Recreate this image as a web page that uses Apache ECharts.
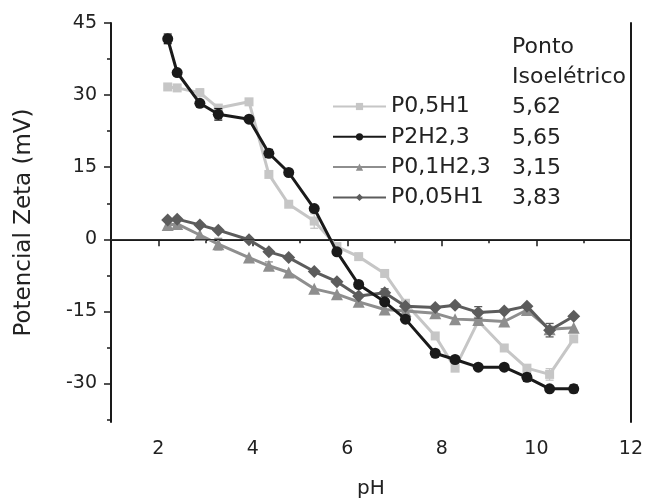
<!DOCTYPE html>
<html>
<head>
<meta charset="utf-8">
<script src="https://cdn.jsdelivr.net/npm/echarts@6/dist/echarts.min.js"></script>
<style>html,body{margin:0;padding:0;background:#fff;}#c{width:646px;height:504px;}</style>
</head>
<body>
<div id="c"></div>
<script>
// ---- data ----
const pH = [2.20, 2.40, 2.88, 3.27, 3.92, 4.34, 4.76, 5.30, 5.78, 6.24, 6.79, 7.23, 7.86, 8.28, 8.77, 9.32, 9.80, 10.28, 10.79];
const P05H1  = [31.7, 31.5, 30.5, 27.3, 28.6, 13.5, 7.3, 3.8, -1.5, -3.6, -7.1, -13.3, -20.1, -26.8, -17.0, -22.6, -26.8, -28.1, -20.7];
const P2H23  = [41.7, 34.7, 28.3, 26.0, 25.0, 17.9, 13.9, 6.4, -2.6, -9.4, -13.0, -16.6, -23.7, -25.0, -26.6, -26.6, -28.7, -31.1, -31.1];
const P01H23 = [3.0, 3.2, 0.9, -1.0, -3.8, -5.5, -6.9, -10.3, -11.4, -13.0, -14.6, -14.9, -15.4, -16.6, -16.8, -17.1, -14.7, -18.7, -18.4];
const P005H1 = [4.0, 4.2, 3.0, 1.9, -0.1, -2.6, -3.8, -6.7, -8.8, -11.8, -11.1, -13.9, -14.2, -13.7, -15.2, -14.9, -13.9, -18.9, -16.0];
const errP05H1  = [0, 0, 0.8, 0, 0, 0, 0, 1.5, 0, 0, 0, 0, 0, 0, 0, 0, 0, 1.2, 0];
const errP2H23  = [1.0, 0, 0.5, 1.2, 0, 0.8, 0, 0.5, 0, 0, 0, 0, 0, 0, 0, 0.5, 0.8, 0, 0.8];
const errP01H23 = [1.0, 1.0, 0, 1.2, 0, 0.8, 0, 0, 0, 0, 0, 0, 0, 0, 0, 0, 0, 0.6, 0];
const errP005H1 = [0, 0, 0, 0, 0, 0, 0, 0, 0, 0, 0.8, 0, 0, 0, 1.2, 0, 0, 1.4, 0];
const seriesNames = ['P0,5H1', 'P2H2,3', 'P0,1H2,3', 'P0,05H1'];
const isoPoints = ['5,62', '5,65', '3,15', '3,83'];
const isoHeader = ['Ponto', 'Isoelétrico'];
const xMajor = [2, 4, 6, 8, 10, 12];
const xMinor = [1, 3, 5, 7, 9, 11];
const yMajor = [-30, -15, 0, 15, 30, 45];
const yMinor = [-37.5, -22.5, -7.5, 7.5, 22.5, 37.5];
const xName = 'pH';
const yName = 'Potencial Zeta (mV)';

// ---- styling ----
const FONT = 'DejaVu Sans';
const TXT = '#222';
const AX = '#1a1a1a';
const styles = [
  {color: '#c6c6c6', symbol: 'rect', size: 9, z: 2},
  {color: '#1a1a1a', symbol: 'circle', size: 11, z: 5},
  {color: '#8e8e8e', symbol: 'triangle', size: 12, z: 3},
  {color: '#5c5c5c', symbol: 'diamond', size: 13, z: 4}
];
const values = [P05H1, P2H23, P01H23, P005H1];
const errs = [errP05H1, errP2H23, errP01H23, errP005H1];

const chart = echarts.init(document.getElementById('c'), null, {renderer: 'canvas'});

const series = [];
values.forEach((vals, i) => {
  const s = styles[i];
  const ser = {
    name: seriesNames[i],
    type: 'line',
    data: pH.map((x, k) => [x, vals[k]]),
    symbol: s.symbol,
    symbolSize: s.size,
    lineStyle: {color: s.color, width: 3},
    itemStyle: {color: s.color},
    z: s.z,
    animation: false
  };
  if (i === 0) {
    ser.markLine = {
      silent: true, symbol: 'none', animation: false,
      label: {show: false},
      lineStyle: {color: '#333', width: 1, type: 'solid'},
      data: [{yAxis: 0}]
    };
  }
  series.push(ser);
});
values.forEach((vals, i) => {
  const color = styles[i].color;
  const data = [];
  pH.forEach((x, k) => { if (errs[i][k] > 0) data.push([x, vals[k] - errs[i][k], vals[k] + errs[i][k]]); });
  series.push({
    type: 'custom',
    z: styles[i].z,
    animation: false,
    silent: true,
    encode: {x: 0, y: [1, 2]},
    data: data,
    renderItem: function (params, api) {
      const x = api.value(0);
      const p1 = api.coord([x, api.value(1)]);
      const p2 = api.coord([x, api.value(2)]);
      const w = 4;
      const st = {stroke: color, lineWidth: 1.3};
      return {type: 'group', children: [
        {type: 'line', shape: {x1: p1[0], y1: p1[1], x2: p2[0], y2: p2[1]}, style: st},
        {type: 'line', shape: {x1: p1[0] - w, y1: p1[1], x2: p1[0] + w, y2: p1[1]}, style: st},
        {type: 'line', shape: {x1: p2[0] - w, y1: p2[1], x2: p2[0] + w, y2: p2[1]}, style: st}
      ]};
    }
  });
});

const graphics = [];
isoHeader.forEach((t, i) => {
  graphics.push({type: 'text', left: 512, top: 36 + i * 30.5, style: {text: t, font: '22px ' + FONT, fill: TXT}});
});
isoPoints.forEach((t, i) => {
  graphics.push({type: 'text', left: 512, top: 96.5 + i * 30.3, style: {text: t, font: '22px ' + FONT, fill: TXT}});
});

const option = {
  backgroundColor: '#fff',
  animation: false,
  textStyle: {fontFamily: FONT},
  grid: {left: 111, right: 14, top: 23, bottom: 82, containLabel: false},
  legend: {
    data: seriesNames,
    orient: 'vertical',
    left: 332, top: 94.5,
    padding: 0,
    itemWidth: 53, itemHeight: 9,
    itemGap: 6.3,
    textStyle: {fontFamily: FONT, fontSize: 22, color: TXT, lineHeight: 24},
    selectedMode: false
  },
  xAxis: [
    {
      type: 'value', min: 1, max: 12, position: 'bottom',
      name: xName, nameLocation: 'middle', nameGap: 57,
      nameTextStyle: {fontFamily: FONT, fontSize: 20, color: TXT},
      axisLine: {show: true, lineStyle: {color: AX, width: 2}},
      axisTick: {show: true, inside: false, length: 7, customValues: xMajor, lineStyle: {color: AX, width: 1.5}},
      axisLabel: {show: true, margin: 18, customValues: xMajor, fontFamily: FONT, fontSize: 19, color: TXT},
      splitLine: {show: false}
    },
    {
      type: 'value', min: 1, max: 12, position: 'bottom',
      axisLine: {show: false},
      axisTick: {show: true, inside: false, length: 4, customValues: xMinor, lineStyle: {color: AX, width: 1.5}},
      axisLabel: {show: false},
      splitLine: {show: false}
    },
    {
      type: 'value', min: 1, max: 12, position: 'top',
      axisLine: {show: true, lineStyle: {color: AX, width: 2}},
      axisTick: {show: false}, axisLabel: {show: false}, splitLine: {show: false}
    }
  ],
  yAxis: [
    {
      type: 'value', min: -38, max: 45, position: 'left',
      name: yName, nameLocation: 'middle', nameGap: 75, nameRotate: 90,
      nameTextStyle: {fontFamily: FONT, fontSize: 23, color: TXT},
      axisLine: {show: true, lineStyle: {color: AX, width: 2}},
      axisTick: {show: true, inside: false, length: 7, customValues: yMajor, lineStyle: {color: AX, width: 1.5}},
      axisLabel: {show: true, margin: 14, customValues: yMajor, fontFamily: FONT, fontSize: 19, color: TXT},
      splitLine: {show: false}
    },
    {
      type: 'value', min: -38, max: 45, position: 'left',
      axisLine: {show: false},
      axisTick: {show: true, inside: false, length: 4, customValues: yMinor, lineStyle: {color: AX, width: 1.5}},
      axisLabel: {show: false},
      splitLine: {show: false}
    },
    {
      type: 'value', min: -38, max: 45, position: 'right',
      axisLine: {show: true, lineStyle: {color: AX, width: 2}},
      axisTick: {show: false}, axisLabel: {show: false}, splitLine: {show: false}
    }
  ],
  graphic: graphics,
  series: series
};
chart.setOption(option);
</script>
</body>
</html>
